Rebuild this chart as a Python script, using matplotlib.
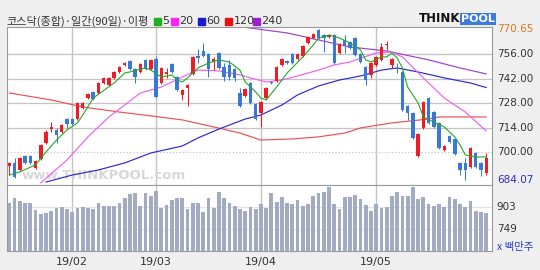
import numpy as np
import matplotlib.pyplot as plt
from matplotlib.patches import Rectangle
from matplotlib.transforms import blended_transform_factory

plt.rcParams['font.family'] = ['Noto Sans CJK KR', 'DejaVu Sans']

# 일봉 데이터 (90일)
opens = [692.3, 694.0, 690.0, 698.0, 698.0, 691.1, 696.3, 705.4, 713.4, 712.9,
         711.7, 719.1, 719.1, 719.1, 725.4, 731.1, 734.6, 734.0, 739.7, 738.6,
         742.6, 746.0, 750.0, 752.3, 747.7, 746.0, 752.9, 747.7, 753.4, 739.7,
         744.9, 750.6, 743.1, 732.9, 736.9, 744.9, 755.1, 758.0, 756.3, 751.7,
         756.9, 748.9, 750.0, 747.7, 734.0, 732.3, 739.7, 727.7, 722.6, 731.1,
         740.3, 740.9, 750.0, 752.3, 756.3, 753.4, 755.1, 762.6, 765.4, 770.0,
         767.1, 766.0, 767.1, 756.9, 764.3, 763.1, 765.4, 756.3, 748.9, 744.3,
         750.0, 752.9, 761.4, 750.0, 748.3, 746.0, 726.6, 722.6, 698.0, 714.0,
         731.1, 723.1, 716.9, 701.4, 709.4, 707.7, 694.0, 694.0, 691.7, 699.7,
         694.0, 688.3]
highs = [694.6, 696.9, 697.4, 698.6, 698.6, 695.7, 704.9, 712.9, 717.4, 714.0,
         716.3, 719.7, 719.7, 728.9, 728.9, 734.0, 735.1, 740.3, 743.1, 743.1,
         746.6, 749.4, 751.7, 752.9, 748.3, 751.1, 753.4, 753.4, 755.1, 748.9,
         748.3, 751.1, 743.7, 736.3, 739.1, 755.1, 759.1, 762.6, 756.9, 754.6,
         757.4, 751.1, 752.9, 748.3, 736.9, 736.9, 740.3, 728.3, 729.4, 737.4,
         740.9, 749.4, 754.0, 752.9, 756.9, 756.9, 761.4, 766.6, 768.3, 770.65,
         767.7, 767.7, 767.7, 762.6, 767.1, 763.7, 766.0, 756.9, 749.4, 751.7,
         755.1, 762.6, 763.7, 754.0, 751.1, 746.6, 727.1, 723.1, 711.1, 729.4,
         731.7, 723.7, 717.4, 704.3, 710.0, 708.3, 694.6, 696.9, 703.1, 700.3,
         694.6, 699.7]
lows = [687.1, 685.5, 689.4, 693.4, 693.4, 690.6, 695.7, 704.9, 711.7, 705.4,
        711.1, 714.0, 715.7, 718.6, 724.9, 730.6, 730.0, 733.4, 739.1, 738.0,
        742.0, 745.4, 749.4, 747.1, 739.7, 745.4, 747.1, 747.1, 731.1, 739.1,
        742.6, 745.4, 735.1, 730.0, 726.6, 744.3, 751.1, 754.6, 743.1, 747.1,
        747.7, 740.9, 741.4, 740.9, 726.0, 731.7, 727.7, 718.6, 714.6, 730.6,
        739.1, 740.3, 749.4, 750.6, 750.6, 752.9, 754.6, 762.0, 764.9, 764.9,
        757.4, 765.4, 750.6, 756.3, 756.9, 759.1, 755.1, 751.1, 738.6, 742.6,
        749.4, 752.3, 758.6, 748.3, 745.4, 723.7, 718.6, 707.7, 697.4, 713.4,
        716.3, 714.0, 702.0, 700.9, 705.4, 698.6, 687.1, 684.07, 691.1, 691.1,
        686.6, 687.1]
closes = [694.0, 686.0, 696.9, 694.0, 694.0, 695.1, 704.3, 711.7, 714.6, 710.0,
          715.7, 716.3, 716.3, 728.3, 728.3, 733.4, 730.6, 739.7, 742.6, 742.6,
          746.0, 748.9, 751.1, 747.7, 743.1, 750.6, 747.7, 752.9, 731.7, 748.3,
          746.0, 746.0, 735.7, 735.7, 738.6, 754.6, 754.0, 755.1, 747.7, 753.4,
          748.3, 743.1, 743.1, 742.6, 726.6, 736.3, 728.3, 719.1, 728.9, 736.9,
          739.7, 748.9, 753.4, 751.1, 751.1, 756.3, 760.9, 766.0, 767.7, 765.4,
          765.4, 767.1, 751.1, 762.0, 761.4, 759.7, 755.7, 751.7, 741.4, 751.1,
          754.6, 760.3, 762.0, 753.4, 747.7, 724.3, 722.6, 708.3, 710.6, 728.9,
          716.9, 714.6, 702.6, 703.7, 706.0, 699.1, 690.0, 690.0, 702.6, 691.7,
          690.0, 696.9]
# 거래량 (백만주)
volumes = [933, 964, 945, 933, 933, 882, 854, 863, 875, 894,
           905, 889, 870, 898, 905, 894, 889, 933, 910, 910,
           910, 933, 968, 992, 999, 910, 999, 980, 1017, 898,
           917, 952, 968, 964, 889, 933, 933, 870, 968, 898,
           1010, 968, 933, 910, 889, 875, 905, 889, 924, 898,
           999, 940, 971, 933, 922, 952, 910, 922, 982, 999,
           1006, 1045, 924, 889, 971, 971, 987, 957, 917, 877,
           924, 894, 905, 982, 1010, 980, 982, 1045, 959, 971,
           924, 910, 924, 905, 975, 957, 924, 905, 947, 877,
           870, 863]

# 이동평균선 (그림에서 읽은 점)
ma5_idx = [0, 2, 5, 7, 9, 11, 13, 14, 16, 20, 22, 23, 26, 27, 29, 31, 32, 33, 34, 36,
           38, 40, 42, 44, 45, 47, 48, 49, 51, 53, 56, 58, 59, 61, 63, 65, 67, 68, 69, 71,
           72, 73, 74, 75, 76, 78, 79, 81, 83, 85, 86, 87, 89, 91]
ma5_val = [687.1, 688.9, 692.9, 700.3, 707.1, 712.9, 716.9, 721.4, 731.1, 739.7,
           745.4, 746.0, 748.3, 747.1, 743.1, 744.3, 741.4, 740.3, 742.6, 748.3,
           751.1, 752.9, 751.7, 747.1, 740.3, 734.6, 731.1, 730.0, 737.4, 745.4,
           754.6, 761.4, 765.4, 767.1, 765.4, 762.6, 758.6, 752.9, 751.7, 754.6,
           754.6, 756.9, 754.0, 748.3, 737.4, 728.3, 720.3, 717.4, 714.6, 708.9,
           704.3, 698.6, 697.4, 697.4]
ma20_idx = [6, 11, 15, 19, 22, 25, 29, 33, 36, 40, 44, 46, 49, 52, 55, 59, 62, 65,
            70, 73, 75, 79, 83, 87, 91]
ma20_val = [682.6, 695.7, 708.9, 720.3, 727.1, 734.0, 737.4, 743.1, 747.1, 746.6,
            744.3, 742.6, 740.3, 741.4, 743.7, 747.1, 750.0, 751.7, 756.9, 757.4,
            754.6, 742.6, 731.1, 723.1, 712.3]
ma60_idx = [7, 12, 17, 22, 27, 33, 36, 40, 45, 48, 52, 55, 59, 63, 67, 71, 74, 78,
            83, 88, 91]
ma60_val = [683.1, 687.1, 690.0, 694.0, 699.7, 703.7, 708.3, 713.4, 719.1, 721.4,
            727.1, 732.9, 738.0, 741.4, 743.7, 747.1, 748.3, 746.0, 742.6, 739.7,
            737.1]
ma120_idx = [0, 8, 14, 21, 27, 33, 39, 44, 48, 54, 59, 64, 67, 73, 80, 82, 91]
ma120_val = [734.0, 730.0, 726.0, 723.1, 720.9, 718.6, 714.6, 711.1, 707.1, 707.7,
             708.9, 711.1, 714.0, 716.9, 719.1, 720.3, 720.3]
ma240_idx = [45, 53, 59, 65, 72, 80, 86, 91]
ma240_val = [771.5, 768.3, 764.3, 760.3, 758.0, 752.9, 748.3, 744.9]

month_idx = [12, 28, 48, 70]
month_labels = ['19/02', '19/03', '19/04', '19/05']

price_ticks = [756, 742, 728, 714, 700]
vol_ticks = [903, 749]

RED = '#ee1c24'
BLUE = '#3a78d8'
GRID = '#c4c4c4'
FRAME = '#9a9a9a'

fig = plt.figure(figsize=(5.4, 2.7), dpi=100, facecolor='#efefef')
ax = fig.add_axes([7 / 540, 85 / 270, 485 / 540, 158 / 270])
axv = fig.add_axes([7 / 540, 19 / 270, 485 / 540, 66 / 270])

n = len(closes)
x = np.arange(n)
o = np.array(opens)
c = np.array(closes)
up = c >= o
colors = np.where(up, RED, BLUE)

for a in (ax, axv):
    a.set_facecolor('white')
    a.set_xlim(-0.45, n + 0.1)
    for s in a.spines.values():
        s.set_color(FRAME)
        s.set_linewidth(0.8)
    a.tick_params(length=0)
    for m in month_idx:
        a.axvline(m, color=GRID, lw=1.0, zorder=0)

# 가격 패널
ax.set_ylim(681.4, 771.7)
for t in price_ticks:
    ls = ':' if t == 700 else '-'
    ax.axhline(t, color=GRID, lw=0.9, ls=ls, zorder=0)
ax.set_xticks([])
ax.set_yticks([])

ax.text(0.03, 0.035, 'www.THINKPOOL.com', transform=ax.transAxes, fontsize=9.5,
        color='#d8d8d8', fontweight='bold', family='DejaVu Sans', zorder=1)

ax.vlines(x, lows, highs, colors=colors, lw=0.75, zorder=3)
body = np.maximum(np.abs(c - o), 0.7)
ax.bar(x, body, bottom=np.minimum(o, c), width=0.66, color=colors, zorder=4)

ax.plot(ma120_idx, ma120_val, color='#f05050', lw=0.85, zorder=2)
ax.plot(ma240_idx, ma240_val, color='#a040d0', lw=0.85, zorder=2)
ax.plot(ma60_idx, ma60_val, color='#2a2ad0', lw=0.85, zorder=2)
ax.plot(ma20_idx, ma20_val, color='#f060f0', lw=0.85, zorder=2)
ax.plot(ma5_idx, ma5_val, color='#22aa22', lw=0.8, zorder=5)

tr = blended_transform_factory(ax.transAxes, ax.transData)
ax.text(1.01, max(highs), '%.2f' % max(highs), transform=tr, fontsize=7.5,
        color='#e07820', va='center', family='DejaVu Sans')
for t in price_ticks:
    ax.text(1.01, t, '%.2f' % t, transform=tr, fontsize=7.5, color='#333333',
            va='center', family='DejaVu Sans')
ax.text(1.01, min(lows), '%.2f' % min(lows), transform=tr, fontsize=7.5,
        color='#2a2ad0', va='center', family='DejaVu Sans')

# 거래량 패널
axv.set_ylim(595, 1057)
for t in vol_ticks:
    axv.axhline(t, color='#e4e4e4', lw=0.8, zorder=0)
axv.bar(x, volumes, bottom=0, width=0.72, color='#a2abc2', zorder=2)
axv.set_yticks([])
axv.set_xticks(month_idx)
axv.set_xticklabels(month_labels, fontsize=8, color='#333333', family='DejaVu Sans')
axv.tick_params(axis='x', pad=4)

trv = blended_transform_factory(axv.transAxes, axv.transData)
for t in vol_ticks:
    axv.text(1.01, t, str(t), transform=trv, fontsize=7.5, color='#333333',
             va='center', family='DejaVu Sans')
axv.text(1.01, 0.06, 'x 백만주', transform=axv.transAxes, fontsize=7.5,
         color='#2a3ad0', va='center')

# 제목과 범례
fig.text(6 / 540, 1 - 21 / 270, '코스닥(종합)·일간(90일)·이평', fontsize=8,
         color='#333333', va='center')
legend = [('#20b020', '5', 154), ('#ff20ff', '20', 171), ('#1a1ad0', '60', 198),
          ('#e81010', '120', 225), ('#9a20d0', '240', 253)]
for col, lab, px in legend:
    fig.add_artist(Rectangle((px / 540, 1 - 25 / 270), 7 / 540, 7 / 270,
                             transform=fig.transFigure, color=col))
    fig.text((px + 8.5) / 540, 1 - 21 / 270, lab, fontsize=8, color='#333333',
             va='center', family='DejaVu Sans')

# 로고
fig.text(419 / 540, 1 - 19 / 270, 'THINK', fontsize=8.5, fontweight='bold',
         color='#111111', va='center', family='DejaVu Sans')
fig.text(461 / 540, 1 - 19 / 270, 'POOL', fontsize=8, fontweight='bold',
         color='white', va='center', family='DejaVu Sans',
         bbox=dict(boxstyle='square,pad=0.1', fc='#3c7ce0', ec='none'))

fig.savefig('out.png', dpi=100, facecolor=fig.get_facecolor())
